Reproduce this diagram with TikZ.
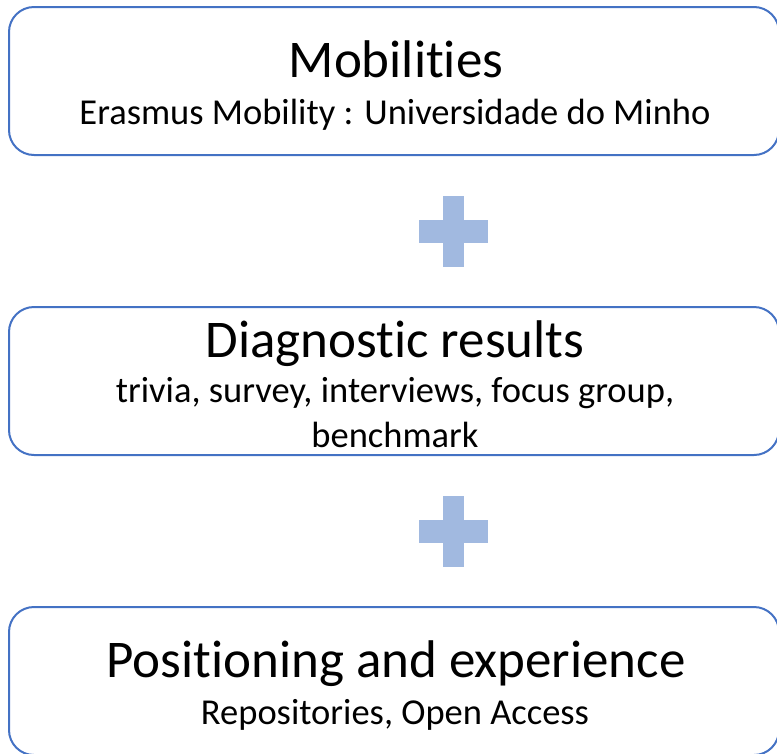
\documentclass[tikz,border=0pt]{standalone}
\usepackage{fontspec}
\setmainfont{Carlito}[Ligatures={NoCommon}]
\usetikzlibrary{calc}

\definecolor{boxblue}{RGB}{68,114,196}
\definecolor{plusblue}{RGB}{161,185,224}

\tikzset{
    stagebox/.style={draw=boxblue, line width=2pt, rounded corners=25pt,
        minimum width=770pt, minimum height=148pt, inner sep=0pt},
    headtext/.style={anchor=base, inner sep=0pt, font=\fontsize{53}{60}\selectfont},
    subtext/.style={anchor=base, inner sep=0pt, font=\fontsize{36.5}{44}\selectfont},
}

\begin{document}
\begin{tikzpicture}[x=1pt, y=-1pt]
    \useasboundingbox (0,0) rectangle (777,753);

    % the three rounded boxes
    \node[stagebox] (mobil) at (394,81) {};
    \node[stagebox] (diag) at (394,381) {};
    \node[stagebox] (posit) at (394,681) {};

    % texts of the first box
    \node[headtext] (mobilT) at (396,77) {Mobilities};
    \node[subtext] (mobilS) at (395,124) {Erasmus Mobility : Universidade do Minho};

    % texts of the second box
    \node[headtext] (diagT) at (395,357) {Diagnostic results};
    \node[subtext] (diagS) at (395,402) {trivia, survey, interviews, focus group,};
    \node[subtext] (diagS2) at (395,447) {benchmark};

    % texts of the third box
    \node[headtext] (positT) at (396,677) {Positioning and experience};
    \node[subtext] (positS) at (395,724) {Repositories, Open Access};

    % the plus signs between the boxes
    \foreach \a/\b in {mobil/diag, diag/posit}
        \fill[plusblue, draw=white, line width=0.6pt]
            ($(\a.south)!0.5!(\b.north)+(59,0)$)
            ++(-11,-12) -- ++(0,-24) -- ++(22,0) -- ++(0,24) -- ++(24,0)
            -- ++(0,24) -- ++(-24,0) -- ++(0,24) -- ++(-22,0) -- ++(0,-24)
            -- ++(-24,0) -- ++(0,-24) -- cycle;
\end{tikzpicture}
\end{document}
